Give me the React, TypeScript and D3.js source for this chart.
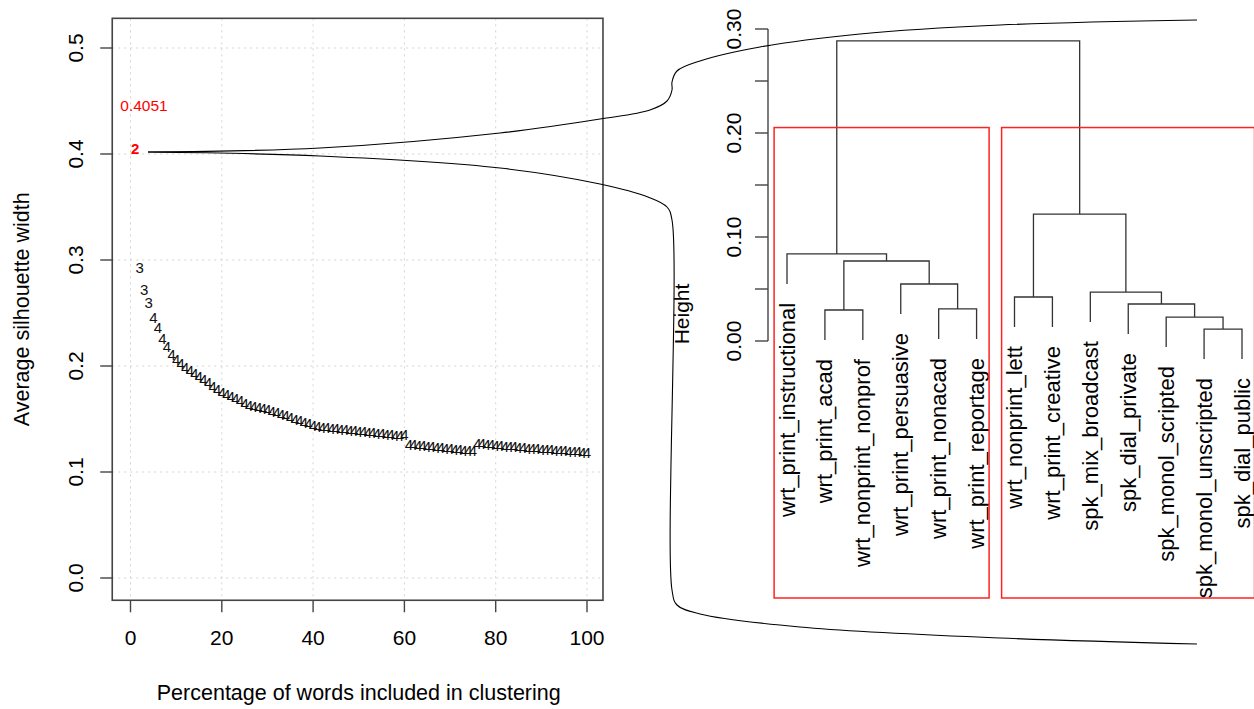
import React, { useEffect, useRef } from 'react';
import * as d3 from 'd3';

// left panel: best silhouette width for each share of words (1..100 %)
const silhouette = [
  0.4051, 0.293, 0.272, 0.260, 0.246, 0.236, 0.226, 0.218, 0.211, 0.206,
  0.202, 0.199, 0.196, 0.193, 0.190, 0.187, 0.184, 0.181, 0.178, 0.175,
  0.173, 0.171, 0.169, 0.167, 0.165, 0.163, 0.162, 0.161, 0.160, 0.159,
  0.157, 0.156, 0.154, 0.153, 0.151, 0.150, 0.149, 0.147, 0.146, 0.144,
  0.143, 0.142, 0.142, 0.141, 0.141, 0.140, 0.140, 0.139, 0.139, 0.138,
  0.138, 0.137, 0.137, 0.136, 0.136, 0.135, 0.135, 0.134, 0.134, 0.135,
  0.126, 0.126, 0.125, 0.125, 0.124, 0.124, 0.123, 0.123, 0.122, 0.122,
  0.121, 0.121, 0.120, 0.120, 0.120, 0.127, 0.127, 0.126, 0.126, 0.125,
  0.125, 0.124, 0.124, 0.124, 0.123, 0.123, 0.122, 0.122, 0.122, 0.121,
  0.121, 0.121, 0.120, 0.120, 0.120, 0.119, 0.119, 0.119, 0.118, 0.118,
];
// number of clusters chosen at each step (drawn as the point label)
const clusterK = [
  2, 3, 3, 3, 4, 4, 4, 4, 4, 4, 4, 4, 4, 4, 4, 4, 4, 4, 4, 4,
  4, 4, 4, 4, 4, 4, 4, 4, 4, 4, 4, 4, 4, 4, 4, 4, 4, 4, 4, 4,
  4, 4, 4, 4, 4, 4, 4, 4, 4, 4, 4, 4, 4, 4, 4, 4, 4, 4, 4, 4,
  4, 4, 4, 4, 4, 4, 4, 4, 4, 4, 4, 4, 4, 4, 4, 4, 4, 4, 4, 4,
  4, 4, 4, 4, 4, 4, 4, 4, 4, 4, 4, 4, 4, 4, 4, 4, 4, 4, 4, 4,
];
const xTicks = [0, 20, 40, 60, 80, 100];
const yTicks = [0, 0.1, 0.2, 0.3, 0.4, 0.5];

// right panel: dendrogram of the 13 registers
const leafLabels = [
  'wrt_print_instructional', 'wrt_print_acad', 'wrt_nonprint_nonprof',
  'wrt_print_persuasive', 'wrt_print_nonacad', 'wrt_print_reportage',
  'wrt_nonprint_lett', 'wrt_print_creative', 'spk_mix_broadcast',
  'spk_dial_private', 'spk_monol_scripted', 'spk_monol_unscripted', 'spk_dial_public',
];
// hclust style merges: negative = leaf number, positive = earlier merge
const mergeLeft = [-2, -5, -4, 1, -1, -12, -11, -10, -9, -7, 10, 5];
const mergeRight = [-3, -6, 2, 3, 4, -13, 6, 7, 8, -8, 9, 11];
const mergeHeight = [0.0298, 0.0308, 0.0548, 0.0769, 0.0837, 0.0115, 0.023, 0.0356, 0.047, 0.0423, 0.122, 0.2885];
const hTicks = [0, 0.05, 0.1, 0.15, 0.2, 0.25, 0.3];
const hLabels = [0, 0.1, 0.2, 0.3];

const FONT = '"Liberation Sans", Arial, sans-serif';

const App = () => {
  const svgRef = useRef(null);

  useEffect(() => {
    const svg = d3.select(svgRef.current);
    svg.selectAll('*').remove();

    // ---------- left panel ----------
    const x = d3.scaleLinear().domain([0, 100]).range([130.5, 587]);
    const y = d3.scaleLinear().domain([0, 0.5]).range([578, 48]);
    const box = { x0: x(-4), x1: x(103.5), y0: y(0.528), y1: y(-0.021) };

    const left = svg.append('g');

    // dotted grid
    left.selectAll('.gx')
      .data(xTicks)
      .enter()
      .append('line')
      .attr('x1', d => x(d)).attr('x2', d => x(d))
      .attr('y1', box.y0).attr('y2', box.y1)
      .attr('stroke', '#d3d3d3').attr('stroke-dasharray', '2,4');
    left.selectAll('.gy')
      .data(yTicks)
      .enter()
      .append('line')
      .attr('x1', box.x0).attr('x2', box.x1)
      .attr('y1', d => y(d)).attr('y2', d => y(d))
      .attr('stroke', '#d3d3d3').attr('stroke-dasharray', '2,4');

    left.append('rect')
      .attr('x', box.x0).attr('y', box.y0)
      .attr('width', box.x1 - box.x0).attr('height', box.y1 - box.y0)
      .attr('fill', 'none').attr('stroke', '#444').attr('stroke-width', 1.6);

    // x axis
    left.selectAll('.tx')
      .data(xTicks)
      .enter()
      .append('line')
      .attr('x1', d => x(d)).attr('x2', d => x(d))
      .attr('y1', box.y1).attr('y2', box.y1 + 12)
      .attr('stroke', '#444').attr('stroke-width', 1.4);
    left.selectAll('.lx')
      .data(xTicks)
      .enter()
      .append('text')
      .attr('x', d => x(d)).attr('y', 637)
      .attr('text-anchor', 'middle').attr('dominant-baseline', 'central')
      .style('font-family', FONT).style('font-size', '21px')
      .text(d => d);

    // y axis
    left.selectAll('.ty')
      .data(yTicks)
      .enter()
      .append('line')
      .attr('x1', box.x0 - 12).attr('x2', box.x0)
      .attr('y1', d => y(d)).attr('y2', d => y(d))
      .attr('stroke', '#444').attr('stroke-width', 1.4);
    left.selectAll('.ly')
      .data(yTicks)
      .enter()
      .append('text')
      .attr('transform', d => `translate(75,${y(d)}) rotate(-90)`)
      .attr('text-anchor', 'middle').attr('dominant-baseline', 'central')
      .style('font-family', FONT).style('font-size', '21px')
      .text(d => d3.format('.1f')(d));

    left.append('text')
      .attr('x', (x(0) + x(100)) / 2).attr('y', 693)
      .attr('text-anchor', 'middle').attr('dominant-baseline', 'central')
      .style('font-family', FONT).style('font-size', '21.5px')
      .text('Percentage of words included in clustering');
    left.append('text')
      .attr('transform', `translate(22,${(box.y0 + box.y1) / 2}) rotate(-90)`)
      .attr('text-anchor', 'middle').attr('dominant-baseline', 'central')
      .style('font-family', FONT).style('font-size', '21.5px')
      .text('Average silhouette width');

    // points drawn as their cluster number
    left.selectAll('.pt')
      .data(silhouette)
      .enter()
      .append('text')
      .attr('x', (d, i) => x(i + 1)).attr('y', d => y(d))
      .attr('text-anchor', 'middle').attr('dominant-baseline', 'central')
      .style('font-family', FONT).style('font-size', '15px')
      .style('font-weight', (d, i) => i === 0 ? 'bold' : 'normal')
      .attr('fill', (d, i) => i === 0 ? 'red' : '#111')
      .text((d, i) => clusterK[i]);

    left.append('text')
      .attr('x', 144).attr('y', y(silhouette[0] + 0.0405))
      .attr('text-anchor', 'middle').attr('dominant-baseline', 'central')
      .style('font-family', FONT).style('font-size', '15.5px')
      .attr('fill', 'red')
      .text(d3.format('.4f')(silhouette[0]));

    // ---------- right panel: dendrogram ----------
    const lx = d3.scaleLinear().domain([1, 13]).range([787, 1242]);
    const hy = d3.scaleLinear().domain([0, 0.3]).range([341, 29]);
    const plotBottom = 598;
    const hang = 0.1 * d3.max(mergeHeight);

    const right = svg.append('g');

    const nodeX = [];
    const nodeTop = (ref, parentH) => ref < 0 ? parentH - hang : mergeHeight[ref - 1];
    const refX = ref => ref < 0 ? lx(-ref) : nodeX[ref - 1];
    const leafEnd = [];

    mergeHeight.forEach((h, i) => {
      const a = mergeLeft[i];
      const b = mergeRight[i];
      const xa = refX(a);
      const xb = refX(b);
      nodeX.push((xa + xb) / 2);
      const p = d3.path();
      p.moveTo(xa, hy(nodeTop(a, h)));
      p.lineTo(xa, hy(h));
      p.lineTo(xb, hy(h));
      p.lineTo(xb, hy(nodeTop(b, h)));
      right.append('path')
        .attr('d', p.toString())
        .attr('fill', 'none').attr('stroke', '#333').attr('stroke-width', 1.3);
      if (a < 0) leafEnd[-a - 1] = h - hang;
      if (b < 0) leafEnd[-b - 1] = h - hang;
    });

    right.selectAll('.leaf')
      .data(leafLabels)
      .enter()
      .append('text')
      .attr('transform', (d, i) => `translate(${lx(i + 1)},${hy(leafEnd[i]) + 19}) rotate(-90)`)
      .attr('text-anchor', 'end').attr('dominant-baseline', 'central')
      .style('font-family', FONT).style('font-size', '22px')
      .text(d => d);

    // rect.hclust(k = 2)
    const topH = (mergeHeight[11] + mergeHeight[10]) / 2;
    right.selectAll('.rbox')
      .data([[0.66, 6.33], [6.66, 13.33]])
      .enter()
      .append('rect')
      .attr('x', d => lx(d[0])).attr('y', hy(topH))
      .attr('width', d => lx(d[1]) - lx(d[0]))
      .attr('height', plotBottom - hy(topH))
      .attr('fill', 'none').attr('stroke', '#f22').attr('stroke-width', 1.5);

    // height axis
    right.append('line')
      .attr('x1', 768).attr('x2', 768)
      .attr('y1', hy(0)).attr('y2', hy(0.3))
      .attr('stroke', '#444').attr('stroke-width', 1.4);
    right.selectAll('.th')
      .data(hTicks)
      .enter()
      .append('line')
      .attr('x1', 755).attr('x2', 768)
      .attr('y1', d => hy(d)).attr('y2', d => hy(d))
      .attr('stroke', '#444').attr('stroke-width', 1.4);
    right.selectAll('.lh')
      .data(hLabels)
      .enter()
      .append('text')
      .attr('transform', d => `translate(733,${hy(d)}) rotate(-90)`)
      .attr('text-anchor', 'middle').attr('dominant-baseline', 'central')
      .style('font-family', FONT).style('font-size', '21px')
      .text(d => d3.format('.2f')(d));
    right.append('text')
      .attr('transform', 'translate(681,314) rotate(-90)')
      .attr('text-anchor', 'middle').attr('dominant-baseline', 'central')
      .style('font-family', FONT).style('font-size', '21px')
      .text('Height');

    // callout lines from the k = 2 point to the dendrogram
    const upper = [[148, 152], [320, 148], [500, 133], [600, 119], [650, 110], [667, 101], [672, 90],
      [672, 82], [677, 71], [700, 61], [760, 47], [860, 34], [1000, 25], [1197, 20]];
    const lower = [[148, 152], [320, 156], [500, 168], [600, 184], [648, 197], [667, 207], [672, 220],
      [672, 590], [677, 605], [700, 614], [800, 627], [1000, 638], [1197, 644]];
    const curve = d3.line().curve(d3.curveCatmullRom.alpha(0.5));
    svg.selectAll('.callout')
      .data([upper, lower])
      .enter()
      .append('path')
      .attr('d', d => curve(d))
      .attr('fill', 'none').attr('stroke', '#000').attr('stroke-width', 1.1);
  }, []);

  return (
    <svg ref={svgRef} width={1254} height={709}
      style={{ position: 'absolute', left: 0, top: 0, background: '#fff' }}>
    </svg>
  );
};

export default App;
